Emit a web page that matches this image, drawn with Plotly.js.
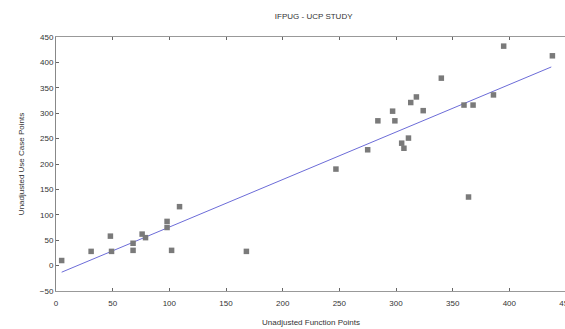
<!DOCTYPE html>
<html>
<head>
<meta charset="utf-8">
<script src="https://cdn.plot.ly/plotly-3.0.1.min.js"></script>
<style>
html, body { margin: 0; padding: 0; overflow: hidden; background: #fff; }
#chart { width: 568px; height: 329px; }
</style>
</head>
<body>
<div id="chart"></div>
<script>
// Data
const functionPoints = [5, 31, 48, 49, 68, 68, 76, 79, 98, 98, 102, 109, 168,
  247, 275, 284, 297, 299, 305, 307, 311, 313, 318, 324, 340, 360, 364, 368, 386, 395, 438];
const useCasePoints = [10, 28, 58, 28, 44, 30, 62, 55, 87, 75, 30, 116, 28,
  190, 228, 285, 304, 285, 241, 231, 251, 321, 332, 305, 369, 316, 135, 316, 336, 432, 413];
const trendX = [5, 437];
const trendY = [-13, 391];

const font = { family: 'Liberation Sans, Arial, sans-serif', size: 8, color: '#333' };

const traces = [
  {
    x: trendX, y: trendY, type: 'scatter', mode: 'lines',
    line: { color: '#6c6cd8', width: 1 }, hoverinfo: 'skip'
  },
  {
    x: functionPoints, y: useCasePoints, type: 'scatter', mode: 'markers',
    marker: { symbol: 'square', size: 5.5, color: '#7a7a7a' }
  }
];

const layout = {
  width: 568, height: 329,
  margin: { l: 56, r: 2, t: 37, b: 38 },
  paper_bgcolor: '#fff', plot_bgcolor: '#fff',
  showlegend: false,
  font: font,
  title: { text: 'IFPUG - UCP STUDY', font: { family: font.family, size: 8, color: '#333' },
           x: 287 / 568, xanchor: 'center', y: 1 - 16 / 329, yanchor: 'middle', xref: 'paper', yref: 'container' },
  xaxis: {
    range: [0, 450], tickvals: [0, 50, 100, 150, 200, 250, 300, 350, 400, 450],
    showgrid: false, zeroline: false, showline: true, linecolor: '#999', linewidth: 1,
    mirror: 'ticks', ticks: 'inside', ticklen: 3, tickcolor: '#666',
    tickfont: font, ticklabelstandoff: 4, ticklabeloverflow: 'allow',
    title: { text: 'Unadjusted Function Points', font: font, standoff: 12 }
  },
  yaxis: {
    range: [-50, 450], tickvals: [-50, 0, 50, 100, 150, 200, 250, 300, 350, 400, 450],
    showgrid: false, zeroline: false, showline: true, linecolor: '#888', linewidth: 1,
    ticks: 'inside', ticklen: 3, tickcolor: '#666',
    tickfont: font,
    title: { text: 'Unadjusted Use Case Points', font: font, standoff: 14 }
  }
};

Plotly.newPlot('chart', traces, layout, { displayModeBar: false, staticPlot: true });
</script>
</body>
</html>
